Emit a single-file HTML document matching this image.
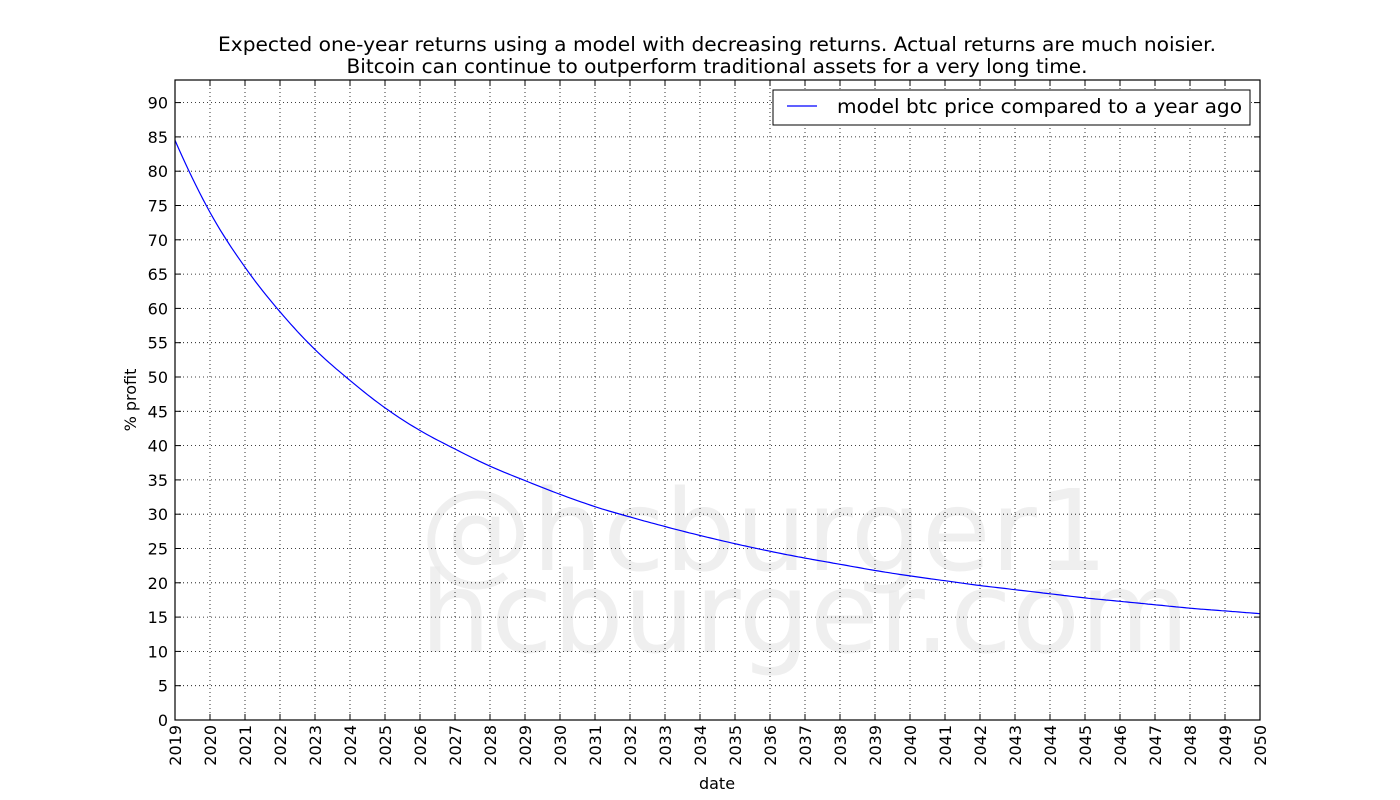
<!DOCTYPE html>
<html><head><style>body{margin:0;background:#fff}svg{display:block}</style></head><body>
<svg width="1400" height="800" xmlns="http://www.w3.org/2000/svg" font-family="DejaVu Sans, Liberation Sans, sans-serif">
<rect width="1400" height="800" fill="#fff"/>
<g fill="#e8e8e8" fill-opacity="0.7" font-size="112">
<text x="420" y="570">@hcburger1</text>
<text x="420" y="652">hcburger.com</text>
</g>
<g id="grid" stroke="#000" stroke-width="0.8" stroke-dasharray="1,3"></g>
<g id="ticks" stroke="#000" stroke-width="1"></g>
<g id="labels" font-size="16" fill="#000"></g>
<polyline id="curve" fill="none" stroke="#0000ff" stroke-width="1.2"/>
<rect x="175" y="80" width="1085" height="640" fill="none" stroke="#000" stroke-width="1.2"/>
<text x="717" y="51" font-size="19.6" text-anchor="middle" textLength="998" lengthAdjust="spacingAndGlyphs">Expected one-year returns using a model with decreasing returns. Actual returns are much noisier.</text>
<text x="717" y="73" font-size="19.6" text-anchor="middle" textLength="741" lengthAdjust="spacingAndGlyphs">Bitcoin can continue to outperform traditional assets for a very long time.</text>
<text x="717" y="789" font-size="16" text-anchor="middle">date</text>
<text transform="translate(136,400) rotate(-90)" font-size="16" text-anchor="middle">% profit</text>
<rect x="773" y="90" width="477" height="35" fill="#fff" stroke="#000" stroke-width="1"/>
<line x1="787" y1="106" x2="817" y2="106" stroke="#0000ff" stroke-width="1.2"/>
<text x="837" y="113" font-size="19.6" textLength="405" lengthAdjust="spacingAndGlyphs">model btc price compared to a year ago</text>
</svg>
<script>
const ns="http://www.w3.org/2000/svg";
const g=document.getElementById('grid'),t=document.getElementById('ticks'),l=document.getElementById('labels');
function el(p,n,a,txt){const e=document.createElementNS(ns,n);for(const k in a)e.setAttribute(k,a[k]);if(txt!==undefined)e.textContent=txt;p.appendChild(e);}
const Y=v=>720-v*6.86, X=yr=>175+(yr-2019)*35;
for(let v=0;v<=90;v+=5){const y=Y(v);
 if(v>0)el(g,'line',{x1:175,x2:1260,y1:y,y2:y});
 el(t,'line',{x1:175,x2:181,y1:y,y2:y});el(t,'line',{x1:1254,x2:1260,y1:y,y2:y});
 el(l,'text',{x:168,y:y+6,'text-anchor':'end'},v);}
for(let yr=2019;yr<=2050;yr++){const x=X(yr);
 if(yr>2019&&yr<2050)el(g,'line',{x1:x,x2:x,y1:80,y2:720});
 el(t,'line',{x1:x,x2:x,y1:714,y2:720});el(t,'line',{x1:x,x2:x,y1:80,y2:86});
 el(l,'text',{transform:`translate(${x+6},725) rotate(-90)`,'text-anchor':'end'},yr);}
const vals=[84.5,74,66,59.5,54,49.5,45.5,42.2,39.5,37,34.9,32.9,31.1,29.6,28.2,26.9,25.7,24.6,23.6,22.7,21.8,21,20.3,19.6,19,18.4,17.8,17.3,16.8,16.3,15.9,15.5];
const ext=[97.3,...vals,15.1];
let pts=[];
for(let i=0;i<vals.length-1;i++){for(let s=0;s<10;s++){const f=s/10;
 const p0=ext[i],p1=ext[i+1],p2=ext[i+2],p3=ext[i+3];
 const v=0.5*((2*p1)+(-p0+p2)*f+(2*p0-5*p1+4*p2-p3)*f*f+(-p0+3*p1-3*p2+p3)*f*f*f);
 pts.push((X(2019+i+f)).toFixed(1)+','+Y(v).toFixed(1));}}
pts.push(X(2050)+','+Y(15.5));
document.getElementById('curve').setAttribute('points',pts.join(' '));
</script>
</body></html>
